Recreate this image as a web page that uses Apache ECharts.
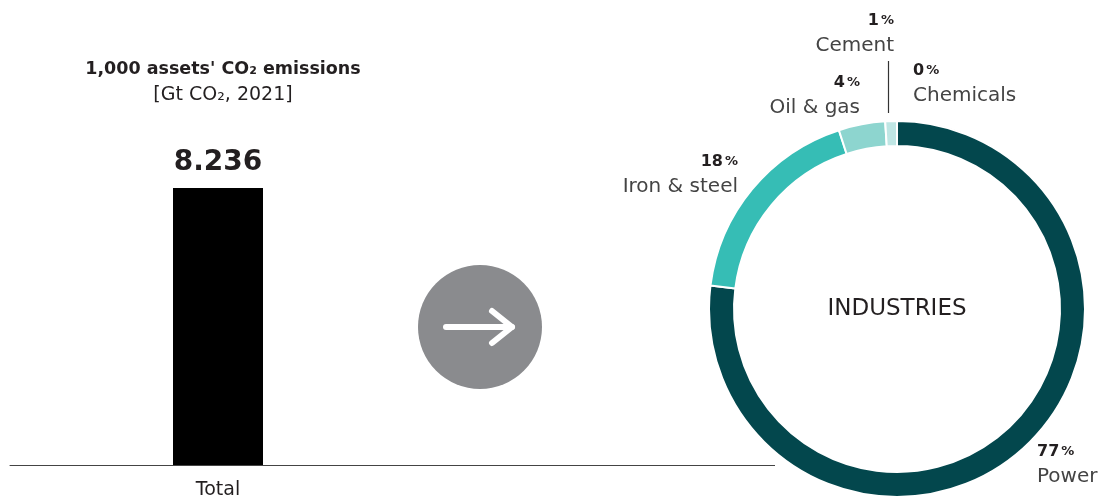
<!DOCTYPE html>
<html>
<head>
<meta charset="utf-8">
<script src="https://cdn.jsdelivr.net/npm/echarts@6/dist/echarts.min.js"></script>
<style>
  html, body { margin: 0; padding: 0; background: #fff; }
  #chart { width: 1102px; height: 500px; }
</style>
</head>
<body>
<div id="chart"></div>
<script>
// Left panel: total emissions of the 1,000 assets
const barCategories = ['Total'];
const barValues = [8.236];

// Right panel: split by industry (percent of total)
const industryNames = ['Power', 'Iron & steel', 'Oil & gas', 'Cement', 'Chemicals'];
const industryShares = [77, 18, 4, 1, 0];
const industryColors = ['#03474d', '#36bdb5', '#8dd5cf', '#bfe6e4', '#d9f1ef'];

const FONT = '"DejaVu Sans", "Noto Sans", sans-serif';
const TEXT = '#231f20';
const SOFT = '#444444';

// label anchor points around the ring (x, top y, align)
const labelSpots = {
  'Power':        [1037, 439.5, 'left'],
  'Iron & steel': [738, 149.5, 'right'],
  'Oil & gas':    [860, 70.5, 'right'],
  'Cement':       [894, 8.5, 'right'],
  'Chemicals':    [913, 58.5, 'left']
};

const chart = echarts.init(document.getElementById('chart'));

chart.setOption({
  animation: false,
  title: {
    text: "1,000 assets' CO\u2082 emissions",
    subtext: '[Gt CO\u2082, 2021]',
    left: 218,
    top: 55,
    textAlign: 'center',
    itemGap: 8,
    textStyle: { fontFamily: FONT, fontSize: 17.5, fontWeight: 'bold', color: TEXT },
    subtextStyle: { fontFamily: FONT, fontSize: 19, color: TEXT }
  },
  grid: { left: 10, right: 676, top: 128.7, bottom: 35, containLabel: false },
  xAxis: {
    type: 'category',
    data: barCategories,
    axisLine: { lineStyle: { color: '#444', width: 1 } },
    axisTick: { show: false },
    axisLabel: { fontFamily: FONT, fontSize: 19, color: TEXT, margin: 16 }
  },
  yAxis: {
    type: 'value', min: 0, max: 10,
    show: false
  },
  series: [
    {
      type: 'bar',
      data: barValues,
      barWidth: 90,
      itemStyle: { color: '#000' },
      label: {
        show: true,
        position: 'top',
        distance: 11,
        fontFamily: FONT,
        fontSize: 28,
        fontWeight: 'bold',
        color: TEXT
      }
    },
    {
      type: 'pie',
      center: [897, 309],
      radius: [163, 188],
      startAngle: 90,
      clockwise: true,
      minAngle: 0,
      avoidLabelOverlap: false,
      itemStyle: { borderColor: '#fff', borderWidth: 2 },
      data: industryNames.map((n, i) => ({
        name: n,
        value: industryShares[i],
        itemStyle: { color: industryColors[i] }
      })),
      label: {
        show: true,
        position: 'outside',
        formatter: p => '{v|' + p.value + '}{pc|%}\n{n|' + p.name + '}',
        rich: {
          v: { fontFamily: FONT, fontSize: 16, fontWeight: 'bold', color: TEXT, lineHeight: 25 },
          pc: { fontFamily: FONT, fontSize: 13, fontWeight: 'bold', color: TEXT, lineHeight: 25, padding: [0, 0, 0, 2] },
          n: { fontFamily: FONT, fontSize: 20, color: SOFT, lineHeight: 25 }
        }
      },
      labelLine: { show: false },
      labelLayout: params => {
        const s = labelSpots[industryNames[params.dataIndex]];
        return { x: s[0], y: s[1], align: s[2], verticalAlign: 'top' };
      },
      emphasis: { disabled: true }
    }
  ],
  graphic: [
    // baseline continues to the right of the bar panel
    { type: 'line', shape: { x1: 426, y1: 465.5, x2: 775, y2: 465.5 }, style: { stroke: '#444', lineWidth: 1 } },
    // arrow badge
    { type: 'circle', shape: { cx: 480, cy: 327, r: 62 }, style: { fill: '#8a8b8e' } },
    { type: 'polyline', shape: { points: [[446, 327], [512, 327]] }, style: { stroke: '#fff', lineWidth: 6, lineCap: 'round', fill: null } },
    { type: 'polyline', shape: { points: [[492, 311], [512, 327], [492, 343]] }, style: { stroke: '#fff', lineWidth: 6, lineCap: 'round', lineJoin: 'round', fill: null } },
    // divider between the Cement and Chemicals labels
    { type: 'line', shape: { x1: 888.5, y1: 61, x2: 888.5, y2: 113 }, style: { stroke: '#333', lineWidth: 1.2 } },
    // ring caption
    { type: 'text', x: 897, y: 309, style: { text: 'INDUSTRIES', fontFamily: FONT, fontSize: 23, fill: TEXT, align: 'center', verticalAlign: 'middle' } }
  ]
});
</script>
</body>
</html>
